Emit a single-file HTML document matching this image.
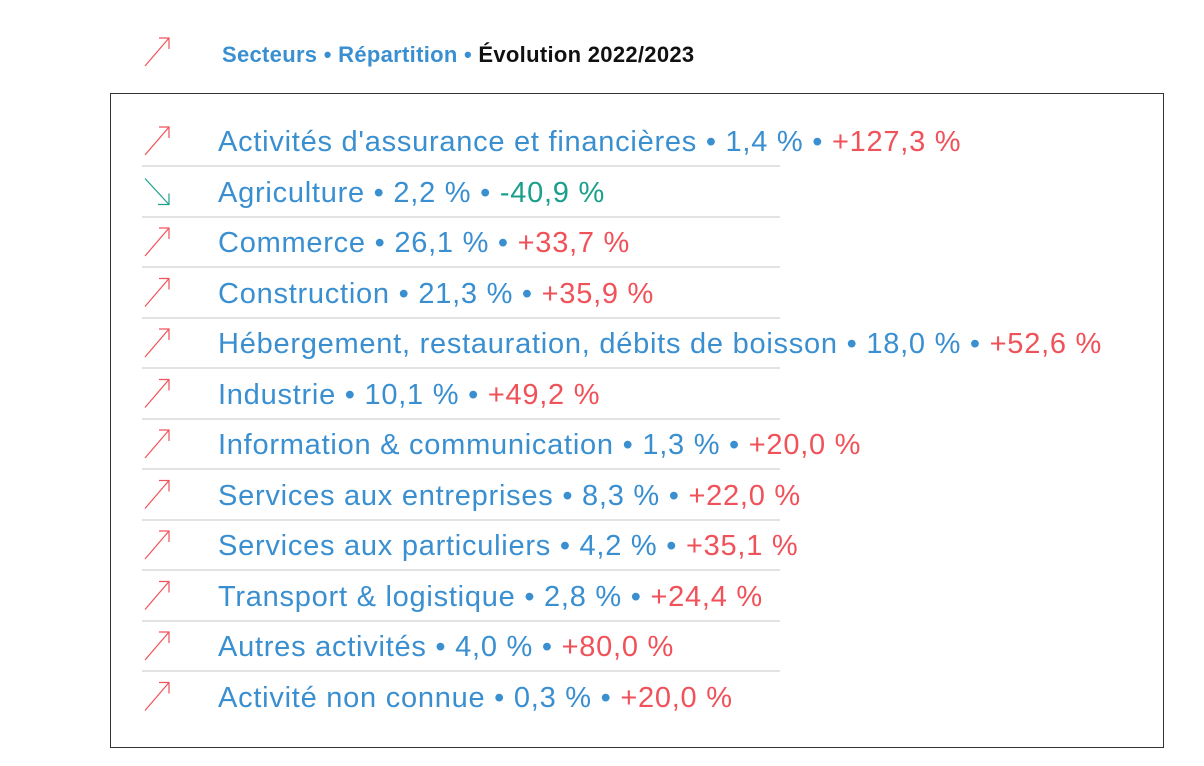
<!DOCTYPE html>
<html><head><meta charset="utf-8"><style>
body{margin:0;width:1204px;height:766px;background:#fff;position:relative;font-family:"Liberation Sans",sans-serif;overflow:hidden}
.hdr{position:absolute;left:222px;top:42px;font-size:22px;letter-spacing:0.3px;font-weight:bold;color:#3a8fd0;white-space:nowrap}
.hdr b{color:#111}
.box{position:absolute;left:110px;top:93px;width:1054px;height:655px;border:1px solid #333;box-sizing:border-box}
.row{position:absolute;left:218px;font-size:29px;letter-spacing:0.75px;color:#3a8fd0;white-space:nowrap;line-height:32px}
.r{color:#f0525a}.g{color:#1aa08a}
.sep{position:absolute;left:142px;width:638px;height:2px;background:#e3e3e3}
svg{position:absolute;left:0;top:0}
</style></head><body>
<div class="hdr">Secteurs • Répartition • <b>Évolution 2022/2023</b></div>
<div class="box"></div>
<svg width="1204" height="766" id="s"></svg>
<div id="c"></div>
<script>
var rows=[["Activités d'assurance et financières","1,4","+127,3",1],["Agriculture","2,2","-40,9",0],["Commerce","26,1","+33,7",1],["Construction","21,3","+35,9",1],["Hébergement, restauration, débits de boisson","18,0","+52,6",1],["Industrie","10,1","+49,2",1],["Information &amp; communication","1,3","+20,0",1],["Services aux entreprises","8,3","+22,0",1],["Services aux particuliers","4,2","+35,1",1],["Transport &amp; logistique","2,8","+24,4",1],["Autres activités","4,0","+80,0",1],["Activité non connue","0,3","+20,0",1]];
var h="",sv="";
function up(x,y){return '<g stroke="#f0525a" stroke-width="1.2" fill="none"><line x1="'+x+'" y1="'+(y+14)+'" x2="'+(x+24)+'" y2="'+(y-14)+'"/><polyline points="'+(x+14)+','+(y-14)+' '+(x+24)+','+(y-14)+' '+(x+24)+','+(y-3)+'"/></g>';}
function dn(x,y){return '<g stroke="#1aa08a" stroke-width="1.2" fill="none"><line x1="'+x+'" y1="'+(y-13)+'" x2="'+(x+24)+'" y2="'+(y+13)+'"/><polyline points="'+(x+13)+','+(y+13)+' '+(x+24)+','+(y+13)+' '+(x+24)+','+(y+2)+'"/></g>';}
sv+=up(145,52);
for(var i=0;i<rows.length;i++){var r=rows[i],cy=141+i*50.5;
h+='<div class="row" style="top:'+(cy-15)+'px">'+r[0]+' • '+r[1]+' % • <span class="'+(r[3]?'r':'g')+'">'+r[2]+' %</span></div>';
if(i<11)h+='<div class="sep" style="top:'+(cy+24)+'px"></div>';
sv+=r[3]?up(145,cy):dn(145,cy);}
document.getElementById('c').innerHTML=h;document.getElementById('s').innerHTML=sv;
</script>
</body></html>
